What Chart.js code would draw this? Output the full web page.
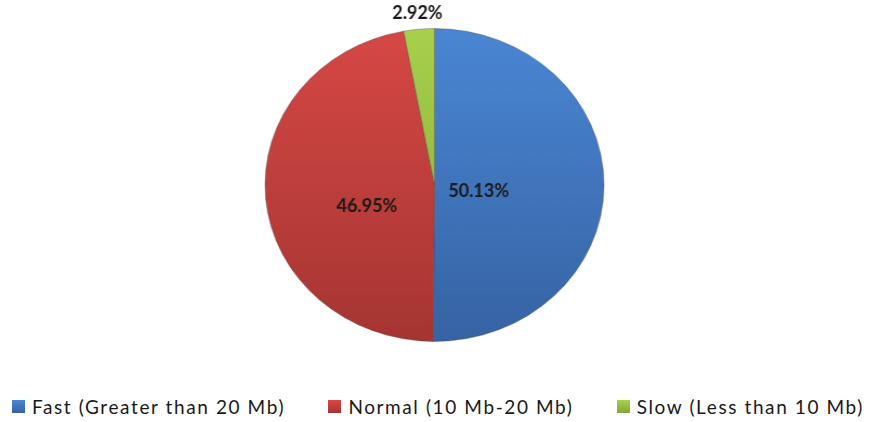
<!DOCTYPE html>
<html>
<head>
<meta charset="utf-8">
<script src="https://cdn.jsdelivr.net/npm/chart.js@4.4.0/dist/chart.umd.min.js"></script>
<style>
    body { margin: 0; background: #ffffff; }
    #page { position: relative; width: 870px; height: 422px; overflow: hidden; }
    /* excel pie is slightly oval, stretch the pie canvas a bit */
    #pieWrap {
        position: absolute; left: 0; top: 0; width: 870px; height: 360px;
        transform: scaleX(1.083); transform-origin: 434.5px 185.5px;
    }
    #legend {
        position: absolute; left: 12px; right: 6px; top: 394px; height: 24px;
        display: flex; justify-content: space-between; align-items: center;
        font-family: Lato, "Noto Sans", sans-serif; font-size: 19px; color: #1a1a1a;
        letter-spacing: 1.6px;
    }
    .item { display: flex; align-items: center; white-space: nowrap; }
    .box { width: 13px; height: 13px; margin-right: 7px; box-sizing: border-box; }
</style>
</head>
<body>
<div id="page">
    <div id="pieWrap"><canvas id="canvasPie"></canvas></div>
    <div id="legend"></div>
</div>
<script>
var labels = ["Fast (Greater than 20 Mb)", "Normal (10 Mb-20 Mb)", "Slow (Less than 10 Mb)"];
var values = [50.13, 46.95, 2.92];
var colorsTop = ["#4a86d4", "#d64845", "#a8d04c"];
var colorsBottom = ["#3663a3", "#a53532", "#83a836"];

var go = {};
var sx = 1.083; // same as css scaleX

// label placement: radius factor (of outer radius) and a small y shift
var labelRadius = [0.26, 0.40, 1.1];
var labelShift = [6, 16, 0];

function sliceColor(ctx) {
    var i = ctx.dataIndex;
    var area = ctx.chart.chartArea;
    if (!area) return colorsTop[i];
    var g = ctx.chart.ctx.createLinearGradient(0, area.top, 0, area.bottom);
    g.addColorStop(0, colorsTop[i]);
    g.addColorStop(1, colorsBottom[i]);
    return g;
}

//draw the percent labels like excel
var pieLabels = {
    id: "pieLabels",
    afterDatasetsDraw: function (chart) {
        var ctx = chart.ctx;
        var meta = chart.getDatasetMeta(0);
        ctx.save();
        ctx.font = "bold 18px Lato, 'Noto Sans', sans-serif";
        ctx.fillStyle = "#1a1a1a";
        ctx.textAlign = "center";
        ctx.textBaseline = "middle";
        for (var i = 0; i < meta.data.length; i++) {
            var p = meta.data[i].getProps(["x", "y", "startAngle", "endAngle", "outerRadius"], true);
            var mid = (p.startAngle + p.endAngle) / 2;
            var r = p.outerRadius * labelRadius[i];
            var x = p.x + Math.cos(mid) * r;
            var y = p.y + Math.sin(mid) * r + labelShift[i];
            ctx.save();
            ctx.translate(x, y);
            ctx.scale(1 / sx, 1); //undo the stretch for text
            ctx.fillText(values[i].toFixed(2) + "%", 0, 0);
            ctx.restore();
        }
        ctx.restore();
    }
};

function main() {
    go.canvas = document.getElementById("canvasPie");

    var config = {
        type: "pie",
        data: {
            labels: labels,
            datasets: [{
                data: values,
                backgroundColor: sliceColor,
                borderColor: "rgba(60,60,60,0.35)",
                borderWidth: 1
            }]
        },
        options: {
            responsive: true,
            maintainAspectRatio: false,
            animation: false,
            layout: { padding: { top: 28, bottom: 18, left: 0, right: 1 } },
            plugins: {
                legend: { display: false },
                tooltip: { enabled: false }
            }
        },
        plugins: [pieLabels]
    };
    go.chart = new Chart(go.canvas.getContext("2d"), config);

    // legend built from the same arrays
    var legend = document.getElementById("legend");
    for (var i = 0; i < labels.length; i++) {
        var item = document.createElement("div");
        item.className = "item";
        var box = document.createElement("span");
        box.className = "box";
        box.style.background = "linear-gradient(" + colorsTop[i] + "," + colorsBottom[i] + ")";
        var txt = document.createElement("span");
        txt.textContent = labels[i];
        item.appendChild(box);
        item.appendChild(txt);
        legend.appendChild(item);
    }
}

main();
</script>
</body>
</html>
